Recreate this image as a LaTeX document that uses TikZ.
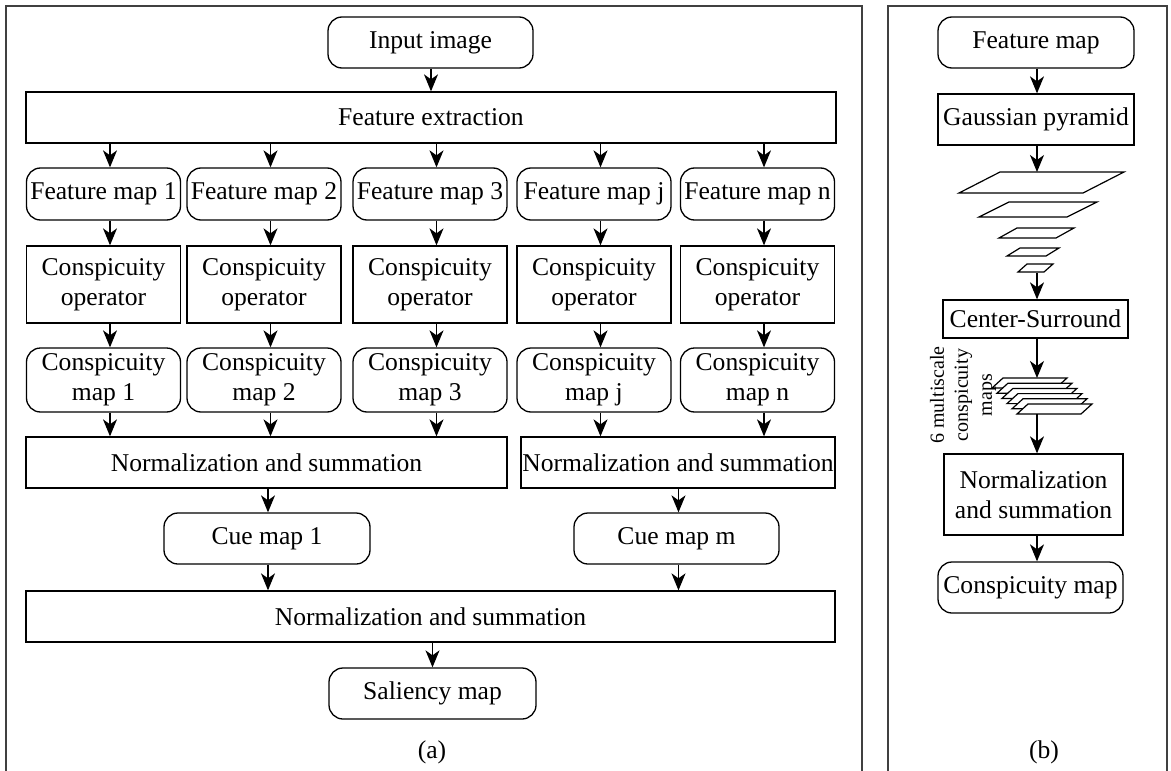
\documentclass[tikz,border=0pt]{standalone}
\usepackage{fontspec}
\setmainfont{Liberation Serif}
\usetikzlibrary{arrows.meta}
\begin{document}
\begin{tikzpicture}[x=1pt,y=-1pt,
  base/.style={draw, line width=1.3pt, inner sep=0pt, align=center, font=\fontsize{25.6}{30}\selectfont},
  rbox/.style={base, rounded corners=14pt},
  sbox/.style={base},
  arr/.style={-{Stealth[length=17pt,width=14pt,inset=5pt]}, line width=1.3pt},
  frame/.style={line width=1.5pt, draw=black!75},
  layer/.style={draw, fill=white, line width=1.2pt, line join=miter},
  lbl/.style={inner sep=0pt, font=\fontsize{25.6}{30}\selectfont}
]
\useasboundingbox (0,0) rectangle (1171,771);
% frames
\draw[frame] (6,772) -- (6,6) -- (862,6) -- (862,772);
\draw[frame] (888,772) -- (888,6) -- (1167,6) -- (1167,772);

% ---------- panel (a) ----------
\node[rbox, minimum width=205, minimum height=51] (in) at (430.5,42.5) {Input image};
\node[sbox, minimum width=810, minimum height=51] (fe) at (431,117.5) {Feature extraction};
\foreach \i/\cx in {1/103.5, 2/264, 3/430, j/594, n/757.5}{
  \coordinate (c\i) at (\cx+6.5,0);
  \node[rbox, minimum width=154, minimum height=52] (fm\i) at (\cx,194) {Feature map \i};
  \node[sbox, minimum width=154, minimum height=77] (op\i) at (\cx,284.5) {Conspicuity\\operator};
  \node[rbox, minimum width=154, minimum height=64] (cm\i) at (\cx,380) {Conspicuity\\map \i};
}
\node[sbox, minimum width=481, minimum height=51] (ns1) at (266.5,462.5) {Normalization and summation};
\node[sbox, minimum width=314, minimum height=51] (ns2) at (678,462.5) {Normalization and summation};
\node[rbox, minimum width=206, minimum height=51] (cue1) at (267,538.5) {Cue map 1};
\node[rbox, minimum width=205, minimum height=51] (cuem) at (676.5,538.5) {Cue map m};
\node[sbox, minimum width=809, minimum height=51] (ns3) at (430.5,616.5) {Normalization and summation};
\node[rbox, minimum width=207, minimum height=51] (sal) at (432.5,693.5) {Saliency map};
\node[lbl] (la) at (432,752) {(a)};

\draw[arr] (in.south -| fe.north) -- (fe.north);
\foreach \i in {1,2,3,j,n}{
  \draw[arr] (fe.south -| c\i) -- (fm\i.north -| c\i);
  \draw[arr] (fm\i.south -| c\i) -- (op\i.north -| c\i);
  \draw[arr] (op\i.south -| c\i) -- (cm\i.north -| c\i);
}
\foreach \i in {1,2,3}{ \draw[arr] (cm\i.south -| c\i) -- (ns1.north -| c\i); }
\foreach \i in {j,n}{ \draw[arr] (cm\i.south -| c\i) -- (ns2.north -| c\i); }
\coordinate (d1) at (268,0);
\coordinate (d2) at (678.5,0);
\draw[arr] (ns1.south -| d1) -- (cue1.north -| d1);
\draw[arr] (ns2.south -| d2) -- (cuem.north -| d2);
\draw[arr] (cue1.south -| d1) -- (ns3.north -| d1);
\draw[arr] (cuem.south -| d2) -- (ns3.north -| d2);
\draw[arr] (ns3.south -| sal.north) -- (sal.north);

% ---------- panel (b) ----------
\coordinate (bx) at (1037,0);
\node[rbox, minimum width=196, minimum height=51] (fmap) at (1036,42.5) {Feature map};
\node[sbox, minimum width=196, minimum height=51] (gp) at (1036,119.5) {Gaussian pyramid};
% pyramid layers: bottom-left, width, skew, height
\foreach \bx/\by/\w/\s/\h in {959/193/124/41/21, 979/217/88/30/15, 999/238/57/18/10, 1007/256/39/13/8, 1018/272/26/9/8}{
  \draw[layer] (\bx,\by) -- (\bx+\w,\by) -- (\bx+\w+\s,\by-\h) -- (\bx+\s,\by-\h) -- cycle;
}
\coordinate (pyrtop) at (1037,172);
\coordinate (pyrbot) at (1037,273);
\node[sbox, minimum width=185, minimum height=38] (cs) at (1035.5,319) {Center-Surround};
% stack of 6 maps
\foreach \k in {0,...,5}{
  \draw[layer] (992+5*\k,388+5.2*\k) -- (1056+5*\k,388+5.2*\k) -- (1067+5*\k,378+5.2*\k) -- (1003+5*\k,378+5.2*\k) -- cycle;
}
\coordinate (sttop) at (1037,378);
\coordinate (stbot) at (1037,414);
\node[inner sep=0pt, rotate=90, align=center, font=\fontsize{20}{24}\selectfont] (ml) at (963,395) {6 multiscale\\conspicuity\\maps};
\node[sbox, minimum width=179, minimum height=81] (ns4) at (1033.5,494.5) {Normalization\\and summation};
\node[rbox, minimum width=185, minimum height=51] (cmap) at (1030.5,587.5) {Conspicuity map};
\node[lbl] (lb) at (1044,752) {(b)};

\draw[arr] (fmap.south -| bx) -- (gp.north -| bx);
\draw[arr] (gp.south -| bx) -- (pyrtop);
\draw[arr] (pyrbot) -- (cs.north -| bx);
\draw[arr] (cs.south -| bx) -- (sttop);
\draw[arr] (stbot) -- (ns4.north -| bx);
\draw[arr] (ns4.south -| bx) -- (cmap.north -| bx);
\end{tikzpicture}
\end{document}
